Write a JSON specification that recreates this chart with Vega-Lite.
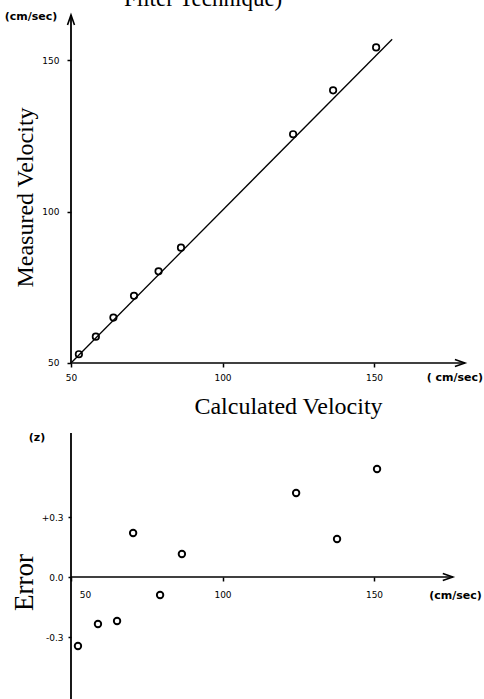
{
  "$schema": "https://vega.github.io/schema/vega-lite/v6.json",
  "width": 484,
  "height": 699,
  "autosize": {"type": "none"},
  "padding": 0,
  "background": "white",
  "datasets": {
    "measured": [
      {"calc": 52.6, "meas": 52.9},
      {"calc": 58.2, "meas": 58.7},
      {"calc": 64.0, "meas": 65.0},
      {"calc": 70.8, "meas": 72.2},
      {"calc": 78.9, "meas": 80.3},
      {"calc": 86.3, "meas": 88.1},
      {"calc": 123.3, "meas": 125.6},
      {"calc": 136.5, "meas": 140.1},
      {"calc": 150.7, "meas": 154.3}
    ],
    "fit": [
      {"calc": 50, "meas": 50},
      {"calc": 156, "meas": 157}
    ],
    "error": [
      {"calc": 52.3, "err": -0.345},
      {"calc": 58.9, "err": -0.235},
      {"calc": 65.2, "err": -0.22},
      {"calc": 70.5, "err": 0.22},
      {"calc": 79.4, "err": -0.09},
      {"calc": 86.6, "err": 0.115},
      {"calc": 124.3, "err": 0.42},
      {"calc": 137.8, "err": 0.19},
      {"calc": 151.0, "err": 0.54}
    ]
  },
  "config": {
    "view": {"stroke": null},
    "axis": {
      "grid": false,
      "domain": false,
      "tickColor": "black",
      "tickWidth": 1.5,
      "tickSize": 4,
      "labelFont": "DejaVu Sans",
      "labelFontSize": 9,
      "labelColor": "black",
      "labelOverlap": false,
      "labelFlush": false,
      "labelBound": false,
      "titleFont": "Liberation Serif",
      "titleFontWeight": "normal",
      "titleColor": "black"
    }
  },
  "resolve": {
    "scale": {"y": "independent"},
    "axis": {"x": "independent", "y": "independent"}
  },
  "layer": [
    {
      "data": {"name": "fit"},
      "mark": {"type": "line", "color": "black", "strokeWidth": 1.3},
      "encoding": {
        "x": {"field": "calc", "type": "quantitative", "scale": {"domain": [26.57, 186.3], "nice": false, "zero": false}, "axis": null},
        "y": {"field": "meas", "type": "quantitative", "scale": {"domain": [-61.04, 169.96], "nice": false, "zero": false}, "axis": null}
      }
    },
    {
      "data": {"name": "measured"},
      "mark": {"type": "point", "shape": "circle", "filled": false, "stroke": "black", "opacity": 1, "size": 42, "strokeWidth": 1.7},
      "encoding": {
        "x": {
          "field": "calc", "type": "quantitative",
          "scale": {"domain": [26.57, 186.3], "nice": false, "zero": false},
          "axis": {
            "orient": "bottom", "offset": -336, "values": [50, 100, 150],
            "tickSize": 4, "labelPadding": 6,
            "title": "Calculated Velocity", "titleFontSize": 24,
            "titleX": 288, "titleY": 50, "titleAlign": "center", "titleBaseline": "alphabetic"
          }
        },
        "y": {
          "field": "meas", "type": "quantitative",
          "scale": {"domain": [-61.04, 169.96], "nice": false, "zero": false},
          "axis": {
            "orient": "left", "offset": -71, "values": [50, 100, 150],
            "tickSize": 4, "labelPadding": 8,
            "title": "Measured Velocity", "titleFontSize": 24, "titleAngle": 270,
            "titleX": -39, "titleY": 197, "titleAlign": "center", "titleBaseline": "alphabetic"
          }
        }
      }
    },
    {
      "data": {"values": [{}]},
      "mark": {"type": "rule", "color": "black", "strokeWidth": 1.6},
      "encoding": {
        "x": {"datum": 50, "type": "quantitative", "axis": null},
        "x2": {"datum": 180},
        "y": {"datum": 50, "type": "quantitative", "scale": {"domain": [-61.04, 169.96], "nice": false, "zero": false}, "axis": null}
      }
    },
    {
      "data": {"values": [{}]},
      "mark": {"type": "rule", "color": "black", "strokeWidth": 1.8},
      "encoding": {
        "x": {"datum": 50, "type": "quantitative", "axis": null},
        "y": {"datum": 50, "type": "quantitative", "scale": {"domain": [-61.04, 169.96], "nice": false, "zero": false}, "axis": null},
        "y2": {"datum": 165}
      }
    },
    {
      "data": {"values": [{}]},
      "mark": {"type": "point", "shape": "M-1,-0.35L0,0L-1,0.35", "filled": false, "stroke": "black", "strokeWidth": 1.6, "opacity": 1, "size": 400},
      "encoding": {
        "x": {"datum": 180, "type": "quantitative", "axis": null},
        "y": {"datum": 50, "type": "quantitative", "scale": {"domain": [-61.04, 169.96], "nice": false, "zero": false}, "axis": null}
      }
    },
    {
      "data": {"values": [{}]},
      "mark": {"type": "point", "shape": "M-0.35,1L0,0L0.35,1", "filled": false, "stroke": "black", "strokeWidth": 1.6, "opacity": 1, "size": 400},
      "encoding": {
        "x": {"datum": 50, "type": "quantitative", "axis": null},
        "y": {"datum": 165, "type": "quantitative", "scale": {"domain": [-61.04, 169.96], "nice": false, "zero": false}, "axis": null}
      }
    },
    {
      "data": {"values": [{}]},
      "mark": {"type": "text", "text": "(cm/sec)", "font": "DejaVu Sans", "fontSize": 11, "fontWeight": "bold", "align": "center", "baseline": "middle", "color": "black"},
      "encoding": {
        "x": {"datum": 36.8, "type": "quantitative", "axis": null},
        "y": {"datum": 164.3, "type": "quantitative", "scale": {"domain": [-61.04, 169.96], "nice": false, "zero": false}, "axis": null}
      }
    },
    {
      "data": {"values": [{}]},
      "mark": {"type": "text", "text": "( cm/sec)", "font": "DejaVu Sans", "fontSize": 11, "fontWeight": "bold", "align": "center", "baseline": "middle", "color": "black"},
      "encoding": {
        "x": {"datum": 176.7, "type": "quantitative", "axis": null},
        "y": {"datum": 45.0, "type": "quantitative", "scale": {"domain": [-61.04, 169.96], "nice": false, "zero": false}, "axis": null}
      }
    },
    {
      "data": {"values": [{}]},
      "mark": {"type": "text", "text": "Filter Technique)", "font": "Liberation Serif", "fontSize": 23, "align": "center", "baseline": "alphabetic", "color": "black"},
      "encoding": {
        "x": {"datum": 93.6, "type": "quantitative", "axis": null},
        "y": {"datum": 168.0, "type": "quantitative", "scale": {"domain": [-61.04, 169.96], "nice": false, "zero": false}, "axis": null}
      }
    },
    {
      "data": {"name": "error"},
      "mark": {"type": "point", "shape": "circle", "filled": false, "stroke": "black", "opacity": 1, "size": 42, "strokeWidth": 1.9},
      "encoding": {
        "x": {
          "field": "calc", "type": "quantitative",
          "scale": {"domain": [26.57, 186.3], "nice": false, "zero": false},
          "axis": {
            "orient": "bottom", "offset": -122, "values": [50, 100, 150],
            "tickSize": 4, "labelPadding": 9,
            "labelOffset": {"condition": {"test": "datum.value == 50", "value": 14}, "value": 0},
            "title": "(cm/sec)", "titleFont": "DejaVu Sans", "titleFontSize": 11, "titleFontWeight": "bold",
            "titleX": 455, "titleY": 18, "titleAlign": "center", "titleBaseline": "middle"
          }
        },
        "y": {
          "field": "err", "type": "quantitative",
          "scale": {"domain": [-0.61, 2.885], "nice": false, "zero": false},
          "axis": {
            "orient": "left", "offset": -71, "values": [-0.3, 0, 0.3],
            "tickSize": 3, "labelPadding": 5,
            "labelExpr": "datum.value > 0.001 ? '+' + format(datum.value, '.1f') : (datum.value < -0.001 ? '-' + format(-datum.value, '.1f') : '0.0')",
            "title": "Error", "titleFontSize": 27, "titleAngle": 270,
            "titleX": -39, "titleY": 582, "titleAlign": "center", "titleBaseline": "alphabetic"
          }
        }
      }
    },
    {
      "data": {"values": [{}]},
      "mark": {"type": "rule", "color": "black", "strokeWidth": 1.6},
      "encoding": {
        "x": {"datum": 50, "type": "quantitative", "axis": null},
        "x2": {"datum": 176},
        "y": {"datum": 0, "type": "quantitative", "scale": {"domain": [-0.61, 2.885], "nice": false, "zero": false}, "axis": null}
      }
    },
    {
      "data": {"values": [{}]},
      "mark": {"type": "rule", "color": "black", "strokeWidth": 1.8},
      "encoding": {
        "x": {"datum": 50, "type": "quantitative", "axis": null},
        "y": {"datum": -0.61, "type": "quantitative", "scale": {"domain": [-0.61, 2.885], "nice": false, "zero": false}, "axis": null},
        "y2": {"datum": 0.72}
      }
    },
    {
      "data": {"values": [{}]},
      "mark": {"type": "point", "shape": "M-1,-0.35L0,0L-1,0.35", "filled": false, "stroke": "black", "strokeWidth": 1.6, "opacity": 1, "size": 400},
      "encoding": {
        "x": {"datum": 176, "type": "quantitative", "axis": null},
        "y": {"datum": 0, "type": "quantitative", "scale": {"domain": [-0.61, 2.885], "nice": false, "zero": false}, "axis": null}
      }
    },
    {
      "data": {"values": [{}]},
      "mark": {"type": "text", "text": "(z)", "font": "DejaVu Sans", "fontSize": 11, "fontWeight": "bold", "align": "center", "baseline": "middle", "color": "black"},
      "encoding": {
        "x": {"datum": 38.8, "type": "quantitative", "axis": null},
        "y": {"datum": 0.695, "type": "quantitative", "scale": {"domain": [-0.61, 2.885], "nice": false, "zero": false}, "axis": null}
      }
    }
  ]
}
